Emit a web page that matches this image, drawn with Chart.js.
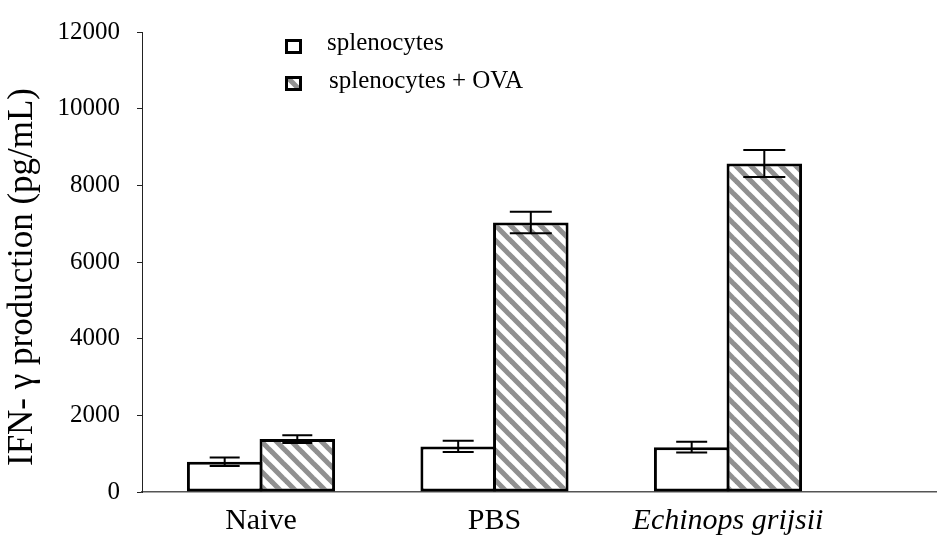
<!DOCTYPE html>
<html>
<head>
<meta charset="utf-8">
<script src="https://cdn.jsdelivr.net/npm/chart.js@4.4.1/dist/chart.umd.min.js"></script>
<style>
  html, body { margin: 0; padding: 0; background: #fff; }
  #wrap { width: 942px; height: 539px; position: relative; }
</style>
</head>
<body>
<div id="wrap"><canvas id="c" width="942" height="539"></canvas></div>
<script>
// ---- data ----
const categories = ['Naive', 'PBS', 'Echinops grijsii'];
const seriesLabels = ['splenocytes', 'splenocytes + OVA'];
const splenocytes = [790, 1190, 1170];
const splenocytesErr = [110, 145, 140];
const splenocytesOva = [1380, 7030, 8570];
const splenocytesOvaErr = [100, 280, 355];
const yTicks = [0, 2000, 4000, 6000, 8000, 10000, 12000];
const yTitle = 'IFN- \u03b3 production (pg/mL)';

const SERIF = "'Liberation Serif', 'Times New Roman', serif";

// hatch pattern
function makeHatch(size) {
  const c = document.createElement('canvas');
  c.width = size; c.height = size;
  const g = c.getContext('2d');
  g.fillStyle = '#ffffff';
  g.fillRect(0, 0, size, size);
  g.strokeStyle = '#909090';
  g.lineWidth = size * 0.34;
  g.lineCap = 'square';
  for (const off of [-size, 0, size]) {
    g.beginPath();
    g.moveTo(off, 0);
    g.lineTo(off + size, size);
    g.stroke();
  }
  return g.createPattern(c, 'repeat');
}
const ctx0 = document.getElementById('c').getContext('2d');
const hatch = makeHatch(15);

const toPts = (arr) => arr.map((v, i) => ({ x: i, y: v }));

const errorBars = {
  id: 'errorBars',
  afterDatasetsDraw(chart) {
    const ctx = chart.ctx;
    const ys = chart.scales.y;
    chart.data.datasets.forEach((ds, di) => {
      const meta = chart.getDatasetMeta(di);
      meta.data.forEach((el, j) => {
        const v = ds.data[j].y, e = ds.errors[j];
        const cap = ds.capWidths[j] / 2;
        const yt = ys.getPixelForValue(v + e);
        const yb = ys.getPixelForValue(v - e);
        ctx.save();
        ctx.strokeStyle = '#000';
        ctx.lineWidth = 2;
        ctx.beginPath();
        ctx.moveTo(el.x, yt); ctx.lineTo(el.x, yb);
        ctx.moveTo(el.x - cap, yt); ctx.lineTo(el.x + cap, yt);
        ctx.moveTo(el.x - cap, yb); ctx.lineTo(el.x + cap, yb);
        ctx.stroke();
        ctx.restore();
      });
    });
  }
};

const customLegend = {
  id: 'customLegend',
  afterDraw(chart) {
    const ctx = chart.ctx;
    const items = [
      { box: [285, 39], text: [327, 50] },
      { box: [285, 76], text: [329, 88] }
    ];
    chart.data.datasets.forEach((ds, i) => {
      const it = items[i];
      ctx.save();
      ctx.fillStyle = '#000';
      ctx.fillRect(it.box[0], it.box[1], 17, 15);
      ctx.fillStyle = ds.backgroundColor;
      ctx.fillRect(it.box[0] + 3, it.box[1] + 3, 11, 9);
      ctx.fillStyle = '#000';
      ctx.font = '25px ' + SERIF;
      ctx.textBaseline = 'alphabetic';
      ctx.textAlign = 'left';
      ctx.fillText(ds.label, it.text[0], it.text[1]);
      ctx.restore();
    });
    // y axis title
    ctx.save();
    ctx.translate(23, 277);
    ctx.rotate(-Math.PI / 2);
    ctx.fillStyle = '#000';
    ctx.font = '35px ' + SERIF;
    ctx.textAlign = 'center';
    ctx.textBaseline = 'middle';
    ctx.fillText(yTitle, 0, 0);
    ctx.restore();
  }
};

new Chart(ctx0, {
  type: 'bar',
  data: {
    datasets: [
      {
        label: seriesLabels[0],
        data: toPts(splenocytes),
        errors: splenocytesErr,
        capWidths: [30, 31, 31],
        backgroundColor: '#ffffff',
        borderColor: '#000000',
        borderWidth: 3,
        borderSkipped: false
      },
      {
        label: seriesLabels[1],
        data: toPts(splenocytesOva),
        errors: splenocytesOvaErr,
        capWidths: [30, 42, 42],
        backgroundColor: hatch,
        borderColor: '#000000',
        borderWidth: 3,
        borderSkipped: false
      }
    ]
  },
  options: {
    responsive: false,
    animation: false,
    devicePixelRatio: 1,
    layout: { padding: { top: 19, right: 6, left: 0, bottom: 0 } },
    categoryPercentage: 0.622,
    barPercentage: 1.04,
    plugins: {
      legend: { display: false },
      tooltip: { enabled: false }
    },
    scales: {
      x: {
        type: 'linear',
        offset: false,
        bounds: 'ticks',
        min: -0.5096,
        max: 2.8908,
        afterFit: (s) => { s.height = 47; },
        afterBuildTicks: (s) => { s.ticks = categories.map((c, i) => ({ value: i })); },
        afterDataLimits: (s) => { s.min = -0.5096; s.max = 2.8908; },
        grid: { display: false, drawTicks: false, offset: false },
        border: { display: true, color: '#555', width: 1.5 },
        ticks: {
          padding: 11,
          color: '#000',
          autoSkip: false,
          maxRotation: 0,
          callback: (v) => categories[v],
          font: (c) => ({
            family: SERIF,
            size: 30,
            style: c.index === 2 ? 'italic' : 'normal'
          })
        }
      },
      y: {
        min: 0,
        max: 12000,
        afterFit: (s) => { s.width = 142; },
        afterBuildTicks: (s) => { s.ticks = yTicks.map(v => ({ value: v })); },
        grid: { drawOnChartArea: false, drawTicks: true, tickLength: 5, color: '#222', lineWidth: 1 },
        border: { display: true, color: '#222', width: 1 },
        ticks: {
          padding: 17,
          color: '#000',
          callback: (v) => String(v),
          font: { family: SERIF, size: 25 }
        }
      }
    }
  },
  plugins: [errorBars, customLegend]
});
</script>
</body>
</html>
